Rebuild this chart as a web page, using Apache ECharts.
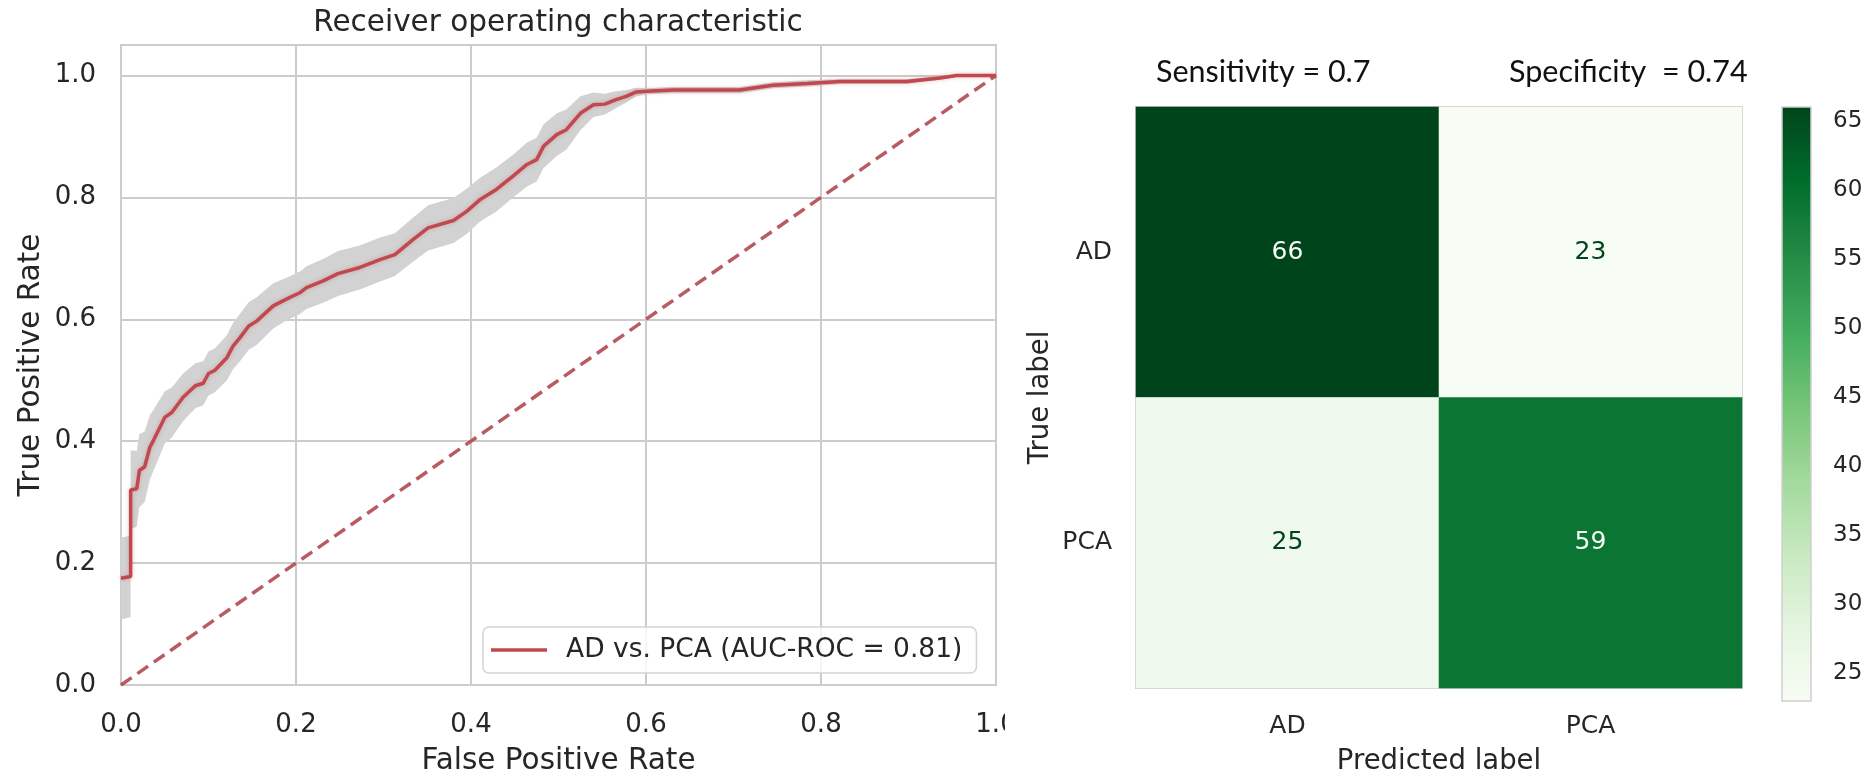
<!DOCTYPE html>
<html>
<head>
<meta charset="utf-8">
<script src="https://cdn.jsdelivr.net/npm/echarts@6/dist/echarts.min.js"></script>
<style>
  html, body { margin: 0; padding: 0; background: #ffffff; }
  #chart { width: 1875px; height: 781px; }
</style>
</head>
<body>
<div id="chart"></div>
<script>
// Mean ROC curve (false positive rate -> true positive rate) and its spread
const fpr = [0.000, 0.011, 0.011, 0.018, 0.021, 0.027, 0.033, 0.037, 0.050, 0.058,
             0.071, 0.085, 0.094, 0.100, 0.107, 0.121, 0.128, 0.136, 0.146, 0.155,
             0.174, 0.189, 0.205, 0.212, 0.231, 0.248, 0.273, 0.296, 0.313, 0.334,
             0.351, 0.380, 0.395, 0.410, 0.429, 0.448, 0.464, 0.475, 0.483, 0.498,
             0.509, 0.525, 0.540, 0.553, 0.565, 0.578, 0.589, 0.601, 0.631, 0.707,
             0.745, 0.784, 0.822, 0.898, 0.936, 0.955, 1.000];
const tpr = [0.175, 0.178, 0.320, 0.322, 0.352, 0.358, 0.390, 0.401, 0.439, 0.447,
             0.472, 0.491, 0.495, 0.511, 0.516, 0.537, 0.556, 0.570, 0.589, 0.597,
             0.622, 0.633, 0.644, 0.652, 0.663, 0.675, 0.685, 0.698, 0.706, 0.731,
             0.750, 0.762, 0.777, 0.796, 0.813, 0.835, 0.854, 0.862, 0.884, 0.903,
             0.911, 0.938, 0.952, 0.953, 0.960, 0.966, 0.973, 0.974, 0.976, 0.976,
             0.984, 0.987, 0.990, 0.990, 0.996, 1.000, 1.000];
const tprStd = [0.067, 0.067, 0.065, 0.062, 0.060, 0.058, 0.053, 0.050, 0.043, 0.041,
                0.039, 0.037, 0.036, 0.036, 0.036, 0.037, 0.038, 0.039, 0.039, 0.039,
                0.037, 0.035, 0.035, 0.035, 0.036, 0.037, 0.036, 0.036, 0.035, 0.036,
                0.037, 0.037, 0.037, 0.036, 0.036, 0.035, 0.036, 0.036, 0.036, 0.035,
                0.033, 0.028, 0.020, 0.017, 0.014, 0.010, 0.007, 0.005, 0.005, 0.005,
                0.005, 0.005, 0.004, 0.004, 0.003, 0.002, 0.000];
const chanceLine = [[0, 0], [1, 1]];
const rocName = 'AD vs. PCA (AUC-ROC = 0.81)';

// Confusion matrix: rows = true label, columns = predicted label
const classLabels = ['AD', 'PCA'];
const confusion = [[66, 23],
                   [25, 59]];
const colorbarTicks = [25, 30, 35, 40, 45, 50, 55, 60, 65];
const sensitivityText = 'Sensitivity = 0.7';
const specificityText = 'Specificity  = 0.74';

// matplotlib "Greens" colormap anchors, light to dark
const greens = ['#f7fcf5', '#e5f5e0', '#c7e9c0', '#a1d99b', '#74c476',
                '#41ab5d', '#238b45', '#006d2c', '#00441b'];

const FONT = 'DejaVu Sans';
const TEXT = '#262626';
const GRID = '#cccccc';
const RED = '#c0484e';

const bandLower = tpr.map((v, i) => Math.max(0, v - tprStd[i]));
const bandUpper = tpr.map((v, i) => Math.min(1, v + tprStd[i]));

const flat = confusion.flat();
const cMin = Math.min(...flat);
const cMax = Math.max(...flat);
const cMid = (cMin + cMax) / 2;

const heatData = [];
confusion.forEach((row, r) => row.forEach((v, c) => {
  heatData.push({
    value: [c, r, v],
    label: { color: v > cMid ? greens[0] : greens[greens.length - 1] }
  });
}));

const chart = echarts.init(document.getElementById('chart'), null, { renderer: 'canvas' });

chart.setOption({
  backgroundColor: '#ffffff',
  animation: false,
  textStyle: { fontFamily: FONT, color: TEXT },
  title: [
    {
      text: 'Receiver operating characteristic',
      left: 558, top: 8, padding: 0, textAlign: 'center',
      textStyle: { fontFamily: FONT, fontSize: 29.5, fontWeight: 'normal', color: TEXT }
    },
    {
      text: sensitivityText, left: 1156, top: 57, padding: 0,
      textStyle: { fontFamily: 'Lato', fontSize: 30.5, fontWeight: 'normal', color: '#111111' }
    },
    {
      text: specificityText, left: 1509, top: 57, padding: 0,
      textStyle: { fontFamily: 'Lato', fontSize: 30.5, fontWeight: 'normal', color: '#111111' }
    }
  ],
  legend: {
    data: [{ name: rocName, icon: 'rect' }],
    left: 483, top: 627,
    padding: [8, 14, 8, 8],
    itemWidth: 56, itemHeight: 3.5,
    backgroundColor: 'rgba(255,255,255,0.8)',
    borderColor: '#d4d4d4', borderWidth: 1.5, borderRadius: 6,
    selectedMode: false,
    textStyle: { fontFamily: FONT, fontSize: 26.5, color: TEXT, lineHeight: 30,
                 padding: [0, 0, 0, 14] }
  },
  grid: [
    { left: 121, top: 45, width: 875, height: 640, show: true,
      borderColor: GRID, borderWidth: 2, backgroundColor: 'transparent' },
    { left: 1136, top: 107, width: 606, height: 594, show: true,
      borderColor: GRID, borderWidth: 2, backgroundColor: 'transparent' },
    { left: 1782, top: 107, width: 29, height: 594 }
  ],
  xAxis: [
    {
      gridIndex: 0, type: 'value', min: 0, max: 1, interval: 0.2,
      axisLine: { show: false }, axisTick: { show: false },
      splitLine: { show: true, lineStyle: { color: GRID, width: 2 } },
      axisLabel: { fontFamily: FONT, fontSize: 26, color: TEXT, margin: 27,
                   formatter: v => v.toFixed(1) },
      name: 'False Positive Rate', nameLocation: 'middle', nameGap: 61,
      nameTextStyle: { fontFamily: FONT, fontSize: 29.5, color: TEXT }
    },
    {
      gridIndex: 1, type: 'category', data: classLabels,
      axisLine: { show: false }, axisTick: { show: false }, splitLine: { show: false },
      axisLabel: { fontFamily: FONT, fontSize: 25, color: TEXT, margin: 26 },
      name: 'Predicted label', nameLocation: 'middle', nameGap: 60,
      nameTextStyle: { fontFamily: FONT, fontSize: 27.5, color: TEXT }
    },
    { gridIndex: 2, type: 'value', min: 0, max: 1, show: false }
  ],
  yAxis: [
    {
      gridIndex: 0, type: 'value', min: 0, max: 1.05, interval: 0.2,
      axisLine: { show: false }, axisTick: { show: false },
      splitLine: { show: true, lineStyle: { color: GRID, width: 2 } },
      axisLabel: { fontFamily: FONT, fontSize: 26, color: TEXT, margin: 25,
                   formatter: v => (v > 1.0001 ? '' : v.toFixed(1)) },
      name: 'True Positive Rate', nameLocation: 'middle', nameGap: 75, nameRotate: 90,
      nameTextStyle: { fontFamily: FONT, fontSize: 29.5, color: TEXT }
    },
    {
      gridIndex: 1, type: 'category', data: classLabels, inverse: true,
      axisLine: { show: false }, axisTick: { show: false }, splitLine: { show: false },
      axisLabel: { fontFamily: FONT, fontSize: 25, color: TEXT, margin: 24 },
      name: 'True label', nameLocation: 'middle', nameGap: 81, nameRotate: 90,
      nameTextStyle: { fontFamily: FONT, fontSize: 27.5, color: TEXT }
    },
    {
      gridIndex: 2, type: 'value', min: cMin, max: cMax, position: 'right',
      axisLine: { show: false }, splitLine: { show: false },
      axisTick: { show: true, length: 11, customValues: colorbarTicks,
                  lineStyle: { color: TEXT, width: 2 } },
      axisLabel: { fontFamily: FONT, fontSize: 23, color: TEXT, margin: 22,
                   customValues: colorbarTicks }
    }
  ],
  visualMap: {
    type: 'continuous', show: false, seriesIndex: 4, dimension: 2,
    min: cMin, max: cMax, inRange: { color: greens }
  },
  series: [
    // grey spread band around the mean curve, drawn as one polygon
    {
      type: 'custom', xAxisIndex: 0, yAxisIndex: 0, silent: true, z: 1,
      data: fpr.map((x, i) => [x, bandLower[i], bandUpper[i]]),
      encode: { x: 0, y: [1, 2] },
      renderItem: function (params, api) {
        if (params.dataIndex !== 0) return null;
        const pts = [];
        for (let i = 0; i < fpr.length; i++) pts.push(api.coord([fpr[i], bandUpper[i]]));
        for (let i = fpr.length - 1; i >= 0; i--) pts.push(api.coord([fpr[i], bandLower[i]]));
        return { type: 'polygon', shape: { points: pts }, style: { fill: '#d2d2d2' } };
      }
    },
    // chance diagonal
    {
      type: 'line', xAxisIndex: 0, yAxisIndex: 0, silent: true, symbol: 'none',
      lineStyle: { color: 'rgba(178,72,80,0.9)', width: 3.5, type: [13, 7] },
      data: chanceLine, z: 2
    },
    // mean ROC curve
    {
      name: rocName, type: 'line', xAxisIndex: 0, yAxisIndex: 0, symbol: 'none',
      color: RED,
      lineStyle: { color: RED, width: 3.5, shadowColor: 'rgba(196,78,82,0.35)', shadowBlur: 4 },
      data: fpr.map((x, i) => [x, tpr[i]]), z: 3
    },
    // placeholder keeps series indices stable
    { type: 'line', xAxisIndex: 0, yAxisIndex: 0, data: [], silent: true },
    // confusion matrix cells
    {
      type: 'heatmap', xAxisIndex: 1, yAxisIndex: 1, data: heatData,
      label: { show: true, fontFamily: FONT, fontSize: 25 },
      itemStyle: { borderWidth: 0 },
      emphasis: { disabled: true }
    },
    // colour bar for the matrix scale
    {
      type: 'custom', xAxisIndex: 2, yAxisIndex: 2, silent: true,
      data: [[0, cMin, 1, cMax]],
      encode: { x: [0, 2], y: [1, 3] },
      renderItem: function (params, api) {
        const p0 = api.coord([api.value(0), api.value(3)]);
        const p1 = api.coord([api.value(2), api.value(1)]);
        const stops = greens.slice().reverse().map((c, i) => ({
          offset: i / (greens.length - 1), color: c
        }));
        return {
          type: 'rect',
          shape: { x: p0[0], y: p0[1], width: p1[0] - p0[0], height: p1[1] - p0[1] },
          style: {
            fill: new echarts.graphic.LinearGradient(0, 0, 0, 1, stops),
            stroke: '#cfcfcf', lineWidth: 1.5
          }
        };
      }
    }
  ],
  graphic: [
    // the left panel is cut off at its right edge, clipping the last tick label
    { type: 'rect', left: 1005, top: 700, z: 100,
      shape: { width: 40, height: 45 }, style: { fill: '#ffffff' } }
  ]
});
</script>
</body>
</html>
